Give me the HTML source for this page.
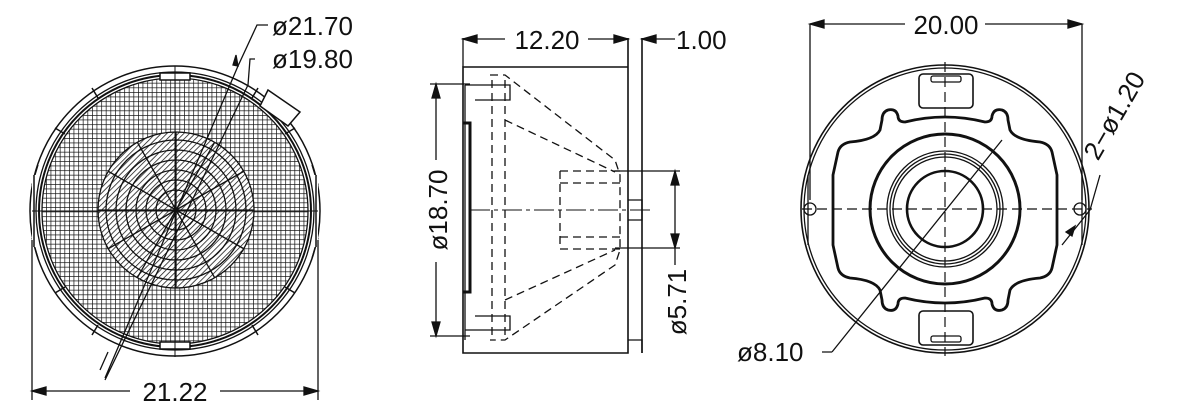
<!DOCTYPE html>
<html><head><style>html,body{margin:0;padding:0;background:#fff}svg{display:block}text{font-family:"Liberation Sans",sans-serif;fill:#111}</style></head><body>
<svg width="1181" height="408" viewBox="0 0 1181 408" xmlns="http://www.w3.org/2000/svg">
<defs>
<pattern id="grid" width="4.6" height="4.6" patternUnits="userSpaceOnUse"><path d="M0 0H4.6M0 0V4.6" stroke="#111" stroke-width="1.4" fill="none"/></pattern>
<pattern id="hatch" width="4" height="4" patternUnits="userSpaceOnUse" patternTransform="rotate(45)"><path d="M0 0V4" stroke="#111" stroke-width="1.5"/></pattern>
<clipPath id="cg"><circle cx="175" cy="211" r="133"/></clipPath>
<clipPath id="cb"><circle cx="176" cy="210" r="78"/></clipPath>
</defs>
<g fill="none" stroke="#111" stroke-width="1.3">
<!-- LEFT VIEW -->
<circle cx="175" cy="211" r="145" stroke-width="1.5"/>
<path d="M32 185L38 165M32 238L38 258M318 185L312 165M318 238L312 258" />
<rect x="32" y="175" width="6" height="72" fill="#fff" stroke="none"/>
<rect x="312" y="175" width="6" height="72" fill="#fff" stroke="none"/>
<path d="M34 175V247M316 175V247" stroke-width="1.5"/>
<circle cx="175" cy="211" r="139"/>
<circle cx="175" cy="211" r="136" stroke-width="2"/>
<circle cx="175" cy="211" r="133"/>
<rect x="42" y="78" width="266" height="266" fill="url(#grid)" stroke="none" clip-path="url(#cg)"/>
<g stroke-width="1.5">
<path d="M92 88l6 10M258 88l-6 10M55 128l10 6M295 128l-10 6M55 293l10 -6M295 293l-10 -6M92 335l6 -10M258 335l-6 -10"/>
<path d="M160 73h30v7h-30zM160 342h30v7h-30z" fill="#fff"/>
<path d="M268 90l32 22 -12 14 -28 -20z" fill="#fff"/>
</g>
<g clip-path="url(#cb)">
<rect x="96" y="130" width="160" height="160" fill="#fff" stroke="none"/>
<rect x="96" y="130" width="160" height="160" fill="url(#hatch)" stroke="none"/>
<circle cx="176" cy="210" r="70"/><circle cx="176" cy="210" r="60"/><circle cx="176" cy="210" r="50"/><circle cx="176" cy="210" r="40"/><circle cx="176" cy="210" r="30"/><circle cx="176" cy="210" r="20"/>
<path d="M176 210L176 130M176 210L216 140M176 210L246 170M176 210L256 210M176 210L246 250M176 210L216 280M176 210L176 290M176 210L136 280M176 210L106 250M176 210L96 210M176 210L106 170M176 210L136 140"/>
</g>
<circle cx="176" cy="210" r="78"/>
<path d="M32 211H318M175 66V357" stroke-width="1"/>
<path d="M32 240V400M318 240V400M32 391H130M220 391H318"/>
<path d="M32 391l14 -4v8zM318 391l-14 -4v8z" fill="#111"/>
<path d="M268 25H257L238 66 105 378M255 59H250L248 85 105 380M100 370l8 -18"/>
<path d="M238 66l-5 -1 3 -10z" fill="#111"/>
<!-- MIDDLE VIEW -->
<path d="M463 67H628V353H463ZM628 38V353M642 38V353M628 67V353" stroke-width="1.6"/>
<path d="M463 38V67M463 39H505M588 39H628M642 39H675"/>
<path d="M463 39l14 -4v8zM628 39l-14 -4v8zM642 39l14 -4v8z" fill="#111"/>
<path d="M463 123H470V292H463" stroke-width="3"/>
<path d="M465 85H510V100H475M465 330H510V316H475M465 85V340M430 84H470M430 336H470M436 84V160M436 262V336"/>
<path d="M436 84l-4 14h8zM436 336l-4 -14h8z" fill="#111"/>
<path d="M628 200h14v20h-14M628 340h14v13" />
<g stroke-dasharray="8 5">
<path d="M490 75H505L615 160 620 175V250L615 265 505 340H490M505 120L615 172M505 300L615 250M492 80V335M505 80V335M560 171H620M560 183H620M560 237H620M560 249H620M560 171V249"/>
</g>
<path d="M470 210H650" stroke-dasharray="20 4 4 4" stroke-width="1"/>
<path d="M615 171H680M615 248H680M675 171V265"/>
<path d="M675 171l-4 14h8zM675 248l-4 -14h8z" fill="#111"/>
<!-- RIGHT VIEW -->
<path d="M810 24V200M1082 24V200M810 24H905M985 24H1082"/>
<path d="M810 24l14 -4v8zM1082 24l-14 -4v8z" fill="#111"/>
<circle cx="945" cy="209" r="144" stroke-width="1.6"/>
<circle cx="945" cy="209" r="141"/>
<path d="M1082 175V245M808 175V245" stroke-width="1.3"/>
<path d="M905 122Q945 112 985 122Q992 122 992 116Q994 108 1002 110Q1008 112 1008 120L1010 130Q1015 140 1040 142Q1050 144 1052 152L1057 175V245L1052 268Q1050 276 1040 278Q1015 280 1010 290L1008 300Q1008 308 1002 310Q994 312 992 304Q992 298 985 298Q945 308 905 298Q898 298 898 304Q896 312 888 310Q882 308 882 300L880 290Q875 280 850 278Q840 276 838 268L833 245V175L838 152Q840 144 850 142Q875 140 880 130L882 120Q882 112 888 110Q896 108 898 116Q898 122 905 122Z" stroke-width="2.8"/>
<circle cx="945" cy="209" r="75" stroke-width="3"/>
<circle cx="945" cy="209" r="58"/>
<circle cx="945" cy="209" r="55"/>
<circle cx="945" cy="209" r="52"/>
<circle cx="945" cy="209" r="38" stroke-width="2.6"/>
<rect x="919" y="74" width="54" height="34" rx="4" stroke-width="1.6"/>
<rect x="931" y="76" width="30" height="6" rx="2"/>
<rect x="919" y="311" width="54" height="34" rx="4" stroke-width="1.6"/>
<rect x="931" y="336" width="30" height="6" rx="2"/>
<circle cx="810" cy="209" r="6"/>
<circle cx="1080" cy="209" r="6"/>
<path d="M802 209H1092M945 62V356" stroke-dasharray="10 5" stroke-width="1.2"/>
<path d="M832 352H822M832 352L1002 140"/>
<path d="M1062 245L1090 210 1100 175"/>
<path d="M1075 226l-3 10 -6 -4z" fill="#111"/>
</g>
<g font-size="26">
<text x="272" y="35">ø21.70</text>
<text x="272" y="68">ø19.80</text>
<text x="175" y="401" text-anchor="middle">21.22</text>
<text x="547" y="49" text-anchor="middle">12.20</text>
<text x="676" y="49">1.00</text>
<text x="946" y="34" text-anchor="middle">20.00</text>
<text x="737" y="361">ø8.10</text>
<text transform="translate(447,210) rotate(-90)" text-anchor="middle">ø18.70</text>
<text transform="translate(686,302) rotate(-90)" text-anchor="middle">ø5.71</text>
<text transform="translate(1122,120) rotate(-60)" text-anchor="middle">2−ø1.20</text>
</g>
</svg>
</body></html>
